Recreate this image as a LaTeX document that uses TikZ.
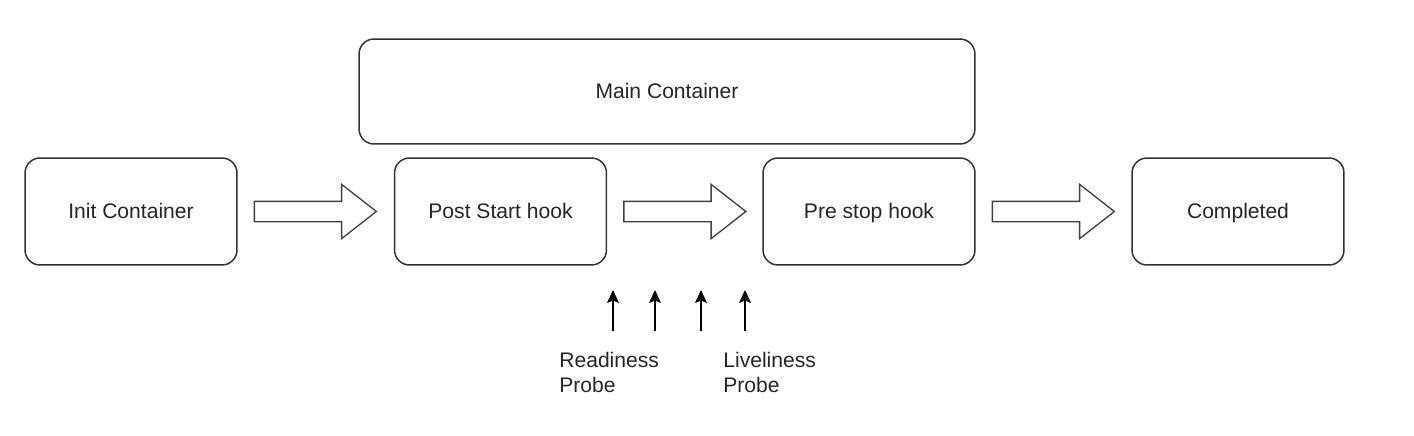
\documentclass[tikz,border=0pt]{standalone}
\usepackage{fontspec}
\setmainfont{Liberation Sans}
\usetikzlibrary{arrows.meta,shapes.arrows,calc}

\begin{document}
\begin{tikzpicture}[x=0.02cm,y=-0.02cm,
  font=\fontsize{12}{14.2}\selectfont,
  box/.style={draw=black!80,line width=0.85pt,rounded corners=0.3cm,
    minimum width=4.24cm,minimum height=2.14cm,text=black!85,
    text height=2ex,text depth=0.4ex},
  blockarrow/.style={draw=black!75,line width=0.75pt,single arrow,
    single arrow tip angle=76,single arrow head extend=0.34cm,
    inner sep=0.19cm,minimum height=2.44cm,anchor=tail},
  probe/.style={-{Stealth[length=2.6mm,width=2.4mm,inset=0.5mm]},line width=0.7pt}]
  \useasboundingbox (0,0) rectangle (1414,436);

  \node[box,minimum width=12.32cm,minimum height=2.1cm] (MAIN) at (667,91.5) {Main Container};

  \node[box] (INIT) at (131,211.5) {Init Container};
  \node[box] (POST) at (500.5,211.5) {Post Start hook};
  \node[box] (PRE) at (869,211.5) {Pre stop hook};
  \node[box] (DONE) at (1238,211.5) {Completed};

  % block arrows between the stages
  \node[blockarrow] (A1) at ($(INIT.east)+(16,0)$) {};
  \node[blockarrow] (A2) at ($(POST.east)+(16,0)$) {};
  \node[blockarrow] (A3) at ($(PRE.east)+(16,0)$) {};

  % probes
  \coordinate (R1) at (613,331);
  \coordinate (R2) at (655,331);
  \coordinate (L1) at (701,331);
  \coordinate (L2) at (745,331);
  \draw[probe] (R1) -- ++(0,-41);
  \draw[probe] (R2) -- ++(0,-41);
  \draw[probe] (L1) -- ++(0,-41);
  \draw[probe] (L2) -- ++(0,-41);

  \node[anchor=west,align=left,text=black!85,inner sep=0pt] (READY) at (559,372) {Readiness\\Probe};
  \node[anchor=west,align=left,text=black!85,inner sep=0pt] (LIVE) at (723,372) {Liveliness\\Probe};
\end{tikzpicture}
\end{document}
